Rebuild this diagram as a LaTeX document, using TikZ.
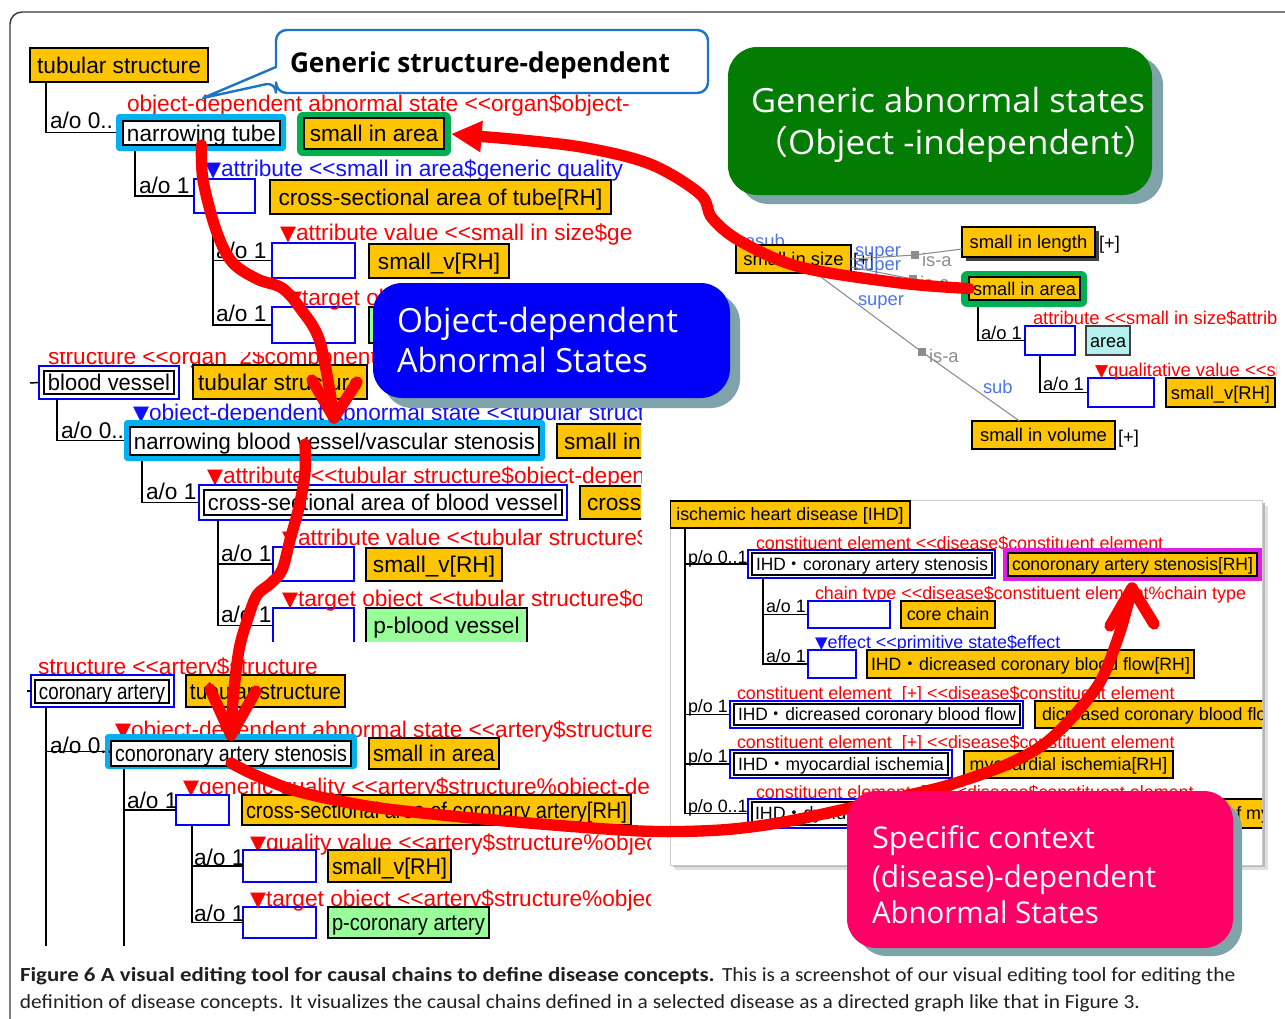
\documentclass[tikz,border=0pt]{standalone}
\usepackage{fontspec}
\usepackage{graphicx}
\usetikzlibrary{arrows.meta,calc}
\setmainfont{Liberation Sans}
\newfontfamily\calfont{Carlito}
\newfontfamily\opsfont{Open Sans}
\newfontfamily\cjkfont{Noto Sans CJK JP}
\newfontfamily\dvfont{DejaVu Sans}
\newcommand\tri{{\dvfont\scalebox{0.92}{▼}}}
\newcommand\nakaguro{{\cjkfont ・}}
\definecolor{orng}{HTML}{FFC400}
\definecolor{hcyan}{HTML}{00B0F0}
\definecolor{hgreen}{HTML}{00B050}
\definecolor{lgreen}{HTML}{99FF99}
\definecolor{acyan}{HTML}{B4F0EE}
\definecolor{uired}{HTML}{FF0000}
\definecolor{uiblue}{HTML}{1010FF}
\definecolor{gblue}{HTML}{4C74F0}
\definecolor{isagray}{HTML}{8C8C8C}
\definecolor{calgreen}{HTML}{037C03}
\definecolor{calblue}{HTML}{0000FA}
\definecolor{calpink}{HTML}{FF0066}
\definecolor{calshadow}{HTML}{7FA3AB}
\definecolor{callbord}{HTML}{1B75C4}
\definecolor{magbord}{HTML}{E020E0}
\definecolor{captxt}{HTML}{231F20}
\definecolor{framegray}{HTML}{3A3A3A}
\definecolor{arrred}{HTML}{FF0000}
\newlength\fitlen
\newsavebox\fitsbox
\newcommand\fitto[2]{\sbox\fitsbox{#2}\ifdim\wd\fitsbox>#1\relax\resizebox{#1}{\height}{\usebox\fitsbox}\else\usebox\fitsbox\fi}
\newcommand\mybox[7]{\pgfmathsetlength\fitlen{(#4-#2-8)*0.75pt}\node[#6,minimum width={(#4-#2)*0.75pt},minimum height={(#5-#3)*0.75pt}] (#1) at ({(#2+#4)/2},{(#3+#5)/2}) {\fitto{\fitlen}{#7}};}
\newcommand\mytext[5]{\node[#4,anchor=west] (#1) at (#2,#3) {#5};}
\tikzset{
 zs/.style={inner sep=0pt, outer sep=0pt},
 L/.style={zs, font=\fontsize{17}{18}\selectfont, text height=12.2pt, text depth=0pt},
 S/.style={zs, font=\fontsize{13.8}{15}\selectfont, text height=9.9pt, text depth=0pt},
 S2/.style={zs, font=\fontsize{13.4}{15}\selectfont, text height=9.6pt, text depth=0pt},
 ob/.style={zs, fill=orng, draw=black, line width=1.2pt},
 gb/.style={zs, fill=lgreen, draw=black, line width=1.2pt},
 eb/.style={zs, fill=white, draw=blue, line width=1.1pt},
 wb/.style={zs, fill=white, draw=black, line width=1.1pt},
 hc/.style={zs, fill=hcyan, rounded corners=2.5pt},
 hg/.style={zs, fill=hgreen, rounded corners=4.5pt},
 rt/.style={text=uired},
 bt/.style={text=uiblue},
 gt/.style={text=gblue},
 it/.style={text=isagray},
 tree/.style={draw=black, line width=1.1pt},
 isaline/.style={draw=isagray, line width=0.8pt},
 redline/.style={draw=arrred, line width=8.5pt, line cap=round, line join=round},
 callfont/.style={zs, anchor=base west, text=white, font=\opsfont\fontsize{25}{30}\selectfont},
 pinkfont/.style={zs, anchor=base west, text=white, font=\opsfont\fontsize{22.5}{27}\selectfont},
 capfont/.style={zs, anchor=base west, text=captxt, font=\calfont\fontsize{15}{18}\selectfont},
}
\begin{document}
\begin{tikzpicture}[x=0.75pt,y=-0.75pt]
\useasboundingbox (0,0) rectangle (1285,1018);
\fill[white] (0,0) rectangle (1285,1018);
\draw[framegray, line width=1.1pt, rounded corners=9pt] (10,1060) -- (10,12) -- (1320,12);

% ---------- left piece 1
\begin{scope}
\clip (12,40) rectangle (632,346);
\mybox{ts1}{30}{48}{208}{82}{L,ob}{tubular structure}
\mytext{rl1}{127}{103}{L,rt}{object-dependent abnormal state <{}<organ\$object-}
\mybox{nt1}{116}{114}{286}{151}{hc}{}
\mybox{nt1i}{123}{121}{280}{145}{L,wb}{narrowing tube}
\mybox{sa1}{297}{112}{451}{156}{hg}{}
\mybox{sa1i}{304}{118}{444}{149}{L,ob}{small in area}
\draw[tree] ($(ts1.south west)+(16,0)$) |- (nt1.west);
\mytext{ao1}{50}{120}{L}{a/o 0..}
\mytext{bl1}{205}{168}{L,bt}{\tri attribute <{}<small in area\$generic quality}
\mybox{eb1}{194}{179}{255}{213}{eb}{}
\draw[tree] ($(nt1.south west)+(19,0)$) |- (eb1.west);
\mytext{ao2}{139}{185}{L}{a/o 1}
\mybox{cs1}{270}{180}{611}{214}{L,ob}{cross-sectional area of tube[RH]}
\mytext{rl2}{280}{232}{L,rt}{\tri attribute value <{}<small in size\$generic quality}
\mybox{eb2}{272}{243}{355}{278}{eb}{}
\mybox{eb3}{272}{307}{355}{343}{eb}{}
\draw[tree] ($(eb1.south west)+(19,0)$) |- (eb2.west);
\draw[tree] ($(eb1.south west)+(19,0)$) |- (eb3.west);
\mytext{ao3}{216}{250}{L}{a/o 1}
\mytext{ao4}{216}{313}{L}{a/o 1}
\mybox{sv1}{369}{244}{509}{278}{L,ob}{small\_v[RH]}
\mytext{rl3}{286}{297}{L,rt}{\tri target object}
\mybox{pg1}{369}{307}{500}{343}{gb}{}
\end{scope}

% ---------- left piece 2
\begin{scope}
\clip (12,352) rectangle (641,641);
\mytext{rl4}{48}{356}{L,rt}{structure <{}<organ\ \ 2\$component}
\coordinate (tk1) at (30,383);
\mybox{bvo}{39}{366}{179}{399}{eb}{}
\mybox{bvi}{44}{371}{174}{394}{L,wb}{blood vessel}
\draw[tree] (tk1) -- (bvo.west);
\mybox{ts2}{193}{365}{367}{399}{L,ob}{tubular structure}
\mytext{bl2}{133}{412}{L,bt}{\tri object-dependent abnormal state <{}<tubular structure\$object-dependent}
\mybox{nb}{124}{420}{545}{461}{hc}{}
\mybox{nbi}{130}{427}{539}{455}{L,wb}{narrowing blood vessel/vascular stenosis}
\mybox{si2}{557}{424}{700}{458}{ob}{}
\mytext{si2t}{564}{441}{L}{small in area}
\draw[tree] ($(bvo.south west)+(18,0)$) |- (nb.west);
\mytext{ao5}{61}{430}{L}{a/o 0..}
\mytext{rl5}{207}{475}{L,rt}{\tri attribute <{}<tubular structure\$object-dependent}
\mybox{csbo}{199}{485}{567}{520}{eb}{}
\mybox{csbi}{204}{490}{562}{515}{L,wb}{cross-sectional area of blood vessel}
\mybox{cr2}{580}{486}{950}{519}{ob}{}
\mytext{cr2t}{587}{502.5}{L}{cross-sectional area of blood vessel[RH]}
\draw[tree] ($(nb.south west)+(18,0)$) |- (csbo.west);
\mytext{ao6}{146}{491}{L}{a/o 1}
\mytext{rl6}{282}{537}{L,rt}{\tri attribute value <{}<tubular structure\$object-dependent}
\mybox{eb4}{273}{547}{354}{581}{eb}{}
\mybox{eb5}{273}{608}{354}{643}{eb}{}
\draw[tree] ($(csbo.south west)+(19,0)$) |- (eb4.west);
\draw[tree] ($(csbo.south west)+(19,0)$) |- (eb5.west);
\mytext{ao7}{221}{553}{L}{a/o 1}
\mytext{ao8}{221}{614}{L}{a/o 1}
\mybox{sv2}{366}{548}{502}{581}{L,ob}{small\_v[RH]}
\mytext{rl7}{282}{598}{L,rt}{\tri target object <{}<tubular structure\$object-dependent}
\mybox{pb}{366}{608}{527}{643}{L,gb}{p-blood vessel}
\end{scope}

% ---------- left piece 3
\begin{scope}
\clip (12,650) rectangle (650,945);
\mytext{rl8}{38}{666}{L,rt}{structure <{}<artery\$structure}
\coordinate (tk2) at (27,691);
\mybox{cao}{31}{675}{174}{707}{eb}{}
\mybox{cai}{35}{680}{169}{703}{L,wb}{coronary artery}
\draw[tree] (tk2) -- (cao.west);
\mybox{ts3}{186}{675}{345}{707}{L,ob}{tubular structure}
\mytext{rl9}{115}{729}{L,rt}{\tri object-dependent abnormal state <{}<artery\$structure\%object-dependent}
\mybox{cas}{105}{734}{357}{769}{hc}{}
\mybox{casi}{111}{741}{351}{766}{L,wb}{conoronary artery stenosis}
\mybox{sa3}{369}{738}{499}{769}{L,ob}{small in area}
\coordinate (bot1) at (46,946);
\coordinate (bot2) at (124,946);
\draw[tree] ($(cao.south west)+(15,0)$) |- (cas.west);
\draw[tree] ($(cao.south west)+(15,0)$) -- (bot1);
\mytext{ao9}{50}{745}{L}{a/o 0..}
\mytext{rl10}{183}{786}{L,rt}{\tri generic quality <{}<artery\$structure\%object-dependent}
\mybox{eb6}{176}{795}{229}{825}{eb}{}
\draw[tree] ($(cas.south west)+(19,0)$) |- (eb6.west);
\draw[tree] ($(cas.south west)+(19,0)$) -- (bot2);
\mytext{ao10}{127}{800}{L}{a/o 1}
\mybox{cs3}{242}{795}{631}{825}{L,ob}{cross-sectional area of coronary artery[RH]}
\mytext{rl11}{250}{842}{L,rt}{\tri quality value <{}<artery\$structure\%object-dependent}
\mybox{eb7}{243}{850}{316}{882}{eb}{}
\mybox{eb8}{243}{907}{316}{938}{eb}{}
\draw[tree] ($(eb6.south west)+(16,0)$) |- (eb7.west);
\draw[tree] ($(eb6.south west)+(16,0)$) |- (eb8.west);
\mytext{ao11}{194}{857}{L}{a/o 1}
\mytext{ao12}{194}{913}{L}{a/o 1}
\mybox{sv3}{328}{850}{451}{882}{L,ob}{small\_v[RH]}
\mytext{rl12}{250}{898}{L,rt}{\tri target object <{}<artery\$structure\%object-dependent}
\mybox{pca}{328}{907}{489}{938}{L,gb}{p-coronary artery}
\end{scope}

% ---------- right top graph
\begin{scope}
\clip (720,215) rectangle (1276,460);
\mytext{asub}{745}{241}{S,gt}{asub}
\mybox{sis}{736}{245}{851}{273}{S,ob}{small in size}
\mytext{sisp}{853}{260}{S}{[+]}
\mybox{silsh}{966}{231}{1099}{261}{zs,fill=black!75}{}
\mybox{sil}{962}{227}{1095}{257}{S,ob}{small in length}
\mytext{silp}{1099}{243}{S}{[+]}
\mybox{sa2}{961}{271}{1087}{307}{hg}{}
\mybox{sa2i}{969}{277}{1080}{300}{S,ob}{small in area}
\mybox{siv}{972}{421}{1115}{449}{S,ob}{small in volume}
\mytext{sivp}{1118}{437}{S}{[+]}
\node[zs, fill=isagray, minimum size=6pt] (q1) at (915,255) {};
\node[zs, fill=isagray, minimum size=6pt] (q2) at (913,279) {};
\node[zs, fill=isagray, minimum size=6pt] (q3) at (922,352) {};
\draw[isaline] (sis.east) -- (q1) -- ($(sil.west)+(0,7)$);
\draw[isaline] ($(sis.east)+(0,8)$) -- (q2) -- (sa2.west);
\draw[isaline] ($(sis.south)+(22,0)$) -- (q3) -- ($(siv.north)+(-24,0)$);
\mytext{sup1}{855}{250}{S,gt}{super}
\mytext{sup2}{855}{264}{S,gt}{super}
\mytext{sup3}{858}{299}{S,gt}{super}
\mytext{isa1}{922}{260}{S,it}{is-a}
\mytext{isa2}{920}{283}{S,it}{is-a}
\mytext{isa3}{929}{356}{S,it}{is-a}
\mytext{sub1}{983}{387}{S,gt}{sub}
\mybox{eb11}{1025}{326}{1075}{355}{eb}{}
\draw[tree] ($(sa2.south west)+(17,0)$) |- (eb11.west);
\mytext{ao13}{981}{333}{S}{a/o 1}
\mytext{rl13}{1033}{318}{S,rt}{attribute <{}<small in size\$attribute}
\mybox{area}{1086}{326}{1130}{355}{S,zs,fill=acyan,draw=black!75,line width=1.4pt}{area}
\mybox{eb12}{1088}{378}{1154}{407}{eb}{}
\draw[tree] ($(eb11.south west)+(15,0)$) |- (eb12.west);
\mytext{ao14}{1043}{384}{S}{a/o 1}
\mytext{rl14}{1095}{370}{S,rt}{\tri qualitative value <{}<small in size}
\mybox{sv4}{1166}{378}{1275}{407}{S,ob}{small\_v[RH]}
\end{scope}

% ---------- right bottom panel
\fill[black!12] (675,506) rectangle (1268,870);
\fill[black!28] (673,503) rectangle (1265,867);
\mybox{panel}{670}{500}{1262}{865}{zs,fill=white,draw=black!20,line width=0.5pt}{}
\begin{scope}
\clip (670,500) rectangle (1262,865);
\mybox{ihd}{670}{501}{910}{528}{S2,ob}{ischemic heart disease [IHD]}
\mytext{cr1}{756}{543}{S2,rt}{constituent element <{}<disease\$constituent element}
\mybox{ihd1o}{748}{550}{995}{578}{eb}{}
\mybox{ihd1i}{752}{553}{992}{575}{S2,wb}{IHD\nakaguro coronary artery stenosis}
\mybox{csm}{1005}{550}{1260}{579}{zs,fill=orng,draw=magbord,line width=3pt}{}
\mybox{csrh}{1008}{553}{1257}{576}{S2,ob}{conoronary artery stenosis[RH]}
\draw[tree] ($(ihd.south west)+(15,0)$) |- (ihd1o.west);
\mytext{po1}{688}{557}{S2}{p/o 0..1}
\mytext{rc1}{815}{593}{S2,rt}{chain type <{}<disease\$constituent element\%chain type}
\mybox{eb9}{808}{601}{890}{628}{eb}{}
\mybox{cc}{901}{601}{995}{628}{S2,ob}{core chain}
\mybox{eb10}{808}{650}{856}{678}{eb}{}
\draw[tree] ($(ihd1o.south west)+(15,0)$) |- (eb9.west);
\draw[tree] ($(ihd1o.south west)+(15,0)$) |- (eb10.west);
\mytext{ao15}{766}{606}{S2}{a/o 1}
\mytext{be1}{815}{642}{S2,bt}{\tri effect <{}<primitive state\$effect}
\mytext{ao16}{766}{656}{S2}{a/o 1}
\mybox{dflow}{867}{650}{1194}{678}{S2,ob}{IHD\nakaguro dicreased coronary blood flow[RH]}
\mytext{cr2b}{737}{693}{S2,rt}{constituent element\ \ [+] <{}<disease\$constituent element}
\mytext{po2}{688}{706}{S2}{p/o 1}
\mybox{ihd2o}{730}{701}{1023}{728}{eb}{}
\mybox{ihd2i}{734}{704}{1020}{725}{S2,wb}{IHD\nakaguro dicreased coronary blood flow}
\mybox{dcbf}{1035}{701}{1300}{728}{ob}{}
\mytext{dcbft}{1042}{714.5}{S2}{dicreased coronary blood flow[RH]}
\mytext{cr3b}{737}{742}{S2,rt}{constituent element\ \ [+] <{}<disease\$constituent element}
\mytext{po3}{688}{756}{S2}{p/o 1}
\mybox{ihd3o}{730}{750}{952}{778}{eb}{}
\mybox{ihd3i}{734}{753}{948}{775}{S2,wb}{IHD\nakaguro myocardial ischemia}
\mybox{mi}{964}{751}{1173}{778}{S2,ob}{myocardial ischemia[RH]}
\mytext{cr4b}{756}{792}{S2,rt}{constituent element\ \ [+] <{}<disease\$constituent element}
\mytext{po4}{688}{806}{S2}{p/o 0..1}
\mybox{ihd4o}{748}{799}{1100}{828}{eb}{}
\mybox{ihd4i}{752}{802}{1096}{825}{wb}{}
\mytext{ihd4t}{755}{813.5}{S2}{IHD\nakaguro dysfunction of myocardium}
\mybox{dm}{1106}{799}{1300}{828}{ob}{}
\mytext{dmt}{1131}{813.5}{S2}{dysfunction of myocardium[RH]}
\draw[tree] ($(ihd.south west)+(15,0)$) |- (ihd2o.west);
\draw[tree] ($(ihd.south west)+(15,0)$) |- (ihd3o.west);
\draw[tree] ($(ihd.south west)+(15,0)$) |- (ihd4o.west);
\end{scope}

% ---------- red arrows
\draw[redline, -{Triangle[length=23pt,width=22pt]}] plot[smooth, tension=0.55] coordinates {(sa2i.west) (900,283) (800,267) (740,241) (712,218) (700,194) (650,164) (581,147) (500,138)} -- (sa1.east);

\coordinate (c2t) at (334,418);
\coordinate (c2l) at (312,380);
\coordinate (c2r) at (357,382);
\draw[redline] plot[smooth, tension=0.55] coordinates {(nt1i.south) (203,180) (216,230) (232,262) (257,279) (282,288) (300,308) (320,342) (c2t)};
\draw[redline] (c2l) -- (c2t) -- (c2r);

\coordinate (s2b) at (305,444);
\coordinate (c3t) at (231,735);
\coordinate (c3l) at (210,689);
\coordinate (c3r) at (256,691);
\draw[redline] plot[smooth, tension=0.55] coordinates {(s2b) (305,473) (299,507) (290,540) (282,570) (270,584) (257,595) (248,618) (239,650) (233,700) (c3t)};
\draw[redline] (c3l) -- (c3t) -- (c3r);

\coordinate (s3) at (231,763);
\coordinate (c4t) at (1132,588);
\coordinate (c4l) at (1110,626);
\coordinate (c4r) at (1154,624);
\draw[redline] plot[smooth, tension=0.5] coordinates {(s3) (255,775) (300,792) (380,808) (505,821) (640,831) (720,830) (784,822) (863,805) (942,787) (1001,767) (1040,747) (1068,722) (1100,682) (1120,632) (c4t)};
\draw[redline] (c4l) -- (c4t) -- (c4r);

% ---------- callouts
\filldraw[draw=callbord, fill=white, line width=1.8pt, line join=round] (276,82) -- (203,98) -- (276,67) [rounded corners=8pt] -- (276,30) -- (708,30) -- (708,93) -- (276,93) -- cycle;
\node[zs, anchor=base west, font=\opsfont\bfseries\fontsize{20.5}{24}\selectfont] (gsd) at (290,72) {\resizebox{285pt}{\height}{Generic structure-dependent}};

\mybox{gcs}{739}{56}{1163}{204}{zs,fill=calshadow,rounded corners=22pt}{}
\mybox{gc}{728}{47}{1152}{195}{zs,fill=calgreen,rounded corners=22pt}{}
\node[callfont] (g1) at (751,112) {\resizebox{295.5pt}{\height}{Generic abnormal states}};
\node[callfont] (g2) at (753,154) {\resizebox{304pt}{\height}{{\cjkfont （}Object -independent{\cjkfont ）}}};

\mybox{bcs}{383}{293}{740}{408}{zs,fill=calshadow,rounded corners=22pt}{}
\mybox{bc}{373}{283}{730}{398}{zs,fill=calblue,rounded corners=22pt}{}
\node[callfont] (b1) at (397,332) {\resizebox{210.75pt}{\height}{Object-dependent}};
\node[callfont] (b2) at (397,372) {\resizebox{188.25pt}{\height}{Abnormal States}};

\mybox{pcs}{857}{800}{1242}{956}{zs,fill=calshadow,rounded corners=22pt}{}
\mybox{pc}{847}{791}{1233}{948}{zs,fill=calpink,rounded corners=22pt}{}
\node[pinkfont] (p1) at (872,848) {\resizebox{167.25pt}{\height}{Specific context}};
\node[pinkfont] (p2) at (872,887) {\resizebox{213pt}{\height}{(disease)-dependent}};
\node[pinkfont] (p3) at (872,923) {\resizebox{170.25pt}{\height}{Abnormal States}};

% ---------- caption
\node[capfont] (cap1a) at (20,981) {\resizebox{521pt}{\height}{\textbf{Figure 6 A visual editing tool for causal chains to define disease concepts.}}};
\node[capfont] (cap1b) at (722,981) {\resizebox{385pt}{\height}{This is a screenshot of our visual editing tool for editing the}};
\node[capfont] (cap2) at (20,1008) {\resizebox{840pt}{\height}{definition of disease concepts. It visualizes the causal chains defined in a selected disease as a directed graph like that in Figure 3.}};
\end{tikzpicture}
\end{document}
